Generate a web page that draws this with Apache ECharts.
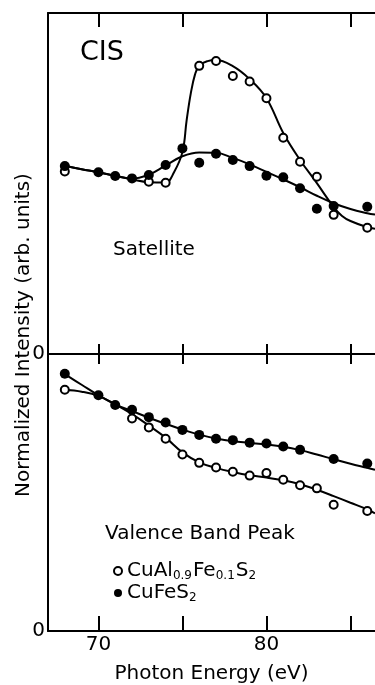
<!DOCTYPE html>
<html>
<head>
<meta charset="utf-8">
<script src="https://cdn.jsdelivr.net/npm/echarts@6/dist/echarts.min.js"></script>
<style>
  html, body { margin: 0; padding: 0; background: #fff; }
  #app { width: 375px; height: 685px; }
</style>
</head>
<body>
<div id="app"></div>
<script>
const FONT = "'DejaVu Sans', sans-serif";
const NAME_AL = "CuAl0.9Fe0.1S2";
const NAME_FE = "CuFeS2";

// x ticks / labels (eV)
const tickValues = [70, 75, 80, 85];
const labelValues = [70, 80];

// Satellite panel, measured points
const satEnergyFe = [68, 70, 71, 72, 73, 74, 75, 76, 77, 78, 79, 80, 81, 82, 83, 84, 86];
const satFe = [55.1, 53.3, 52.2, 51.5, 52.5, 55.4, 60.3, 56.1, 58.7, 56.9, 55.1, 52.3, 51.8, 48.6, 42.6, 43.4, 43.2];
const satEnergyAl = [68, 73, 74, 76, 77, 78, 79, 80, 81, 82, 83, 84, 86];
const satAl = [53.5, 50.5, 50.2, 84.5, 85.9, 81.5, 79.9, 75.0, 63.4, 56.4, 52.0, 40.8, 37.0];

// Satellite panel, drawn curves
const fitEnergy = [68, 69, 70, 71, 72, 73, 74, 75, 76, 77, 78, 79, 80, 81, 82, 83, 84, 85, 86, 86.46];
const satFitFe = [55.2, 54.2, 53.3, 52.3, 51.4, 52.6, 55.3, 58.0, 59.1, 59.0, 57.5, 55.6, 53.4, 51.2, 48.9, 46.4, 44.2, 42.5, 41.3, 40.9];
const satFitEnergyAl = [68, 69, 70, 71, 72, 73, 74, 74.5, 75, 75.25, 75.5, 75.75, 76, 76.5, 77, 78, 79, 80, 81, 82, 83, 84, 84.5, 85, 86, 86.46];
const satFitAl = [55.2, 54.2, 53.3, 52.2, 51.2, 50.4, 50.3, 53.3, 59.2, 68.5, 76.5, 82.0, 84.6, 85.9, 86.2, 84.4, 80.6, 75.0, 64.8, 56.9, 50.1, 43.1, 40.5, 39.0, 37.2, 36.7];

// Valence band peak panel, measured points
const bandEnergyFe = [68, 70, 71, 72, 73, 74, 75, 76, 77, 78, 79, 80, 81, 82, 84, 86];
const bandFe = [92.9, 85.1, 81.6, 79.9, 77.2, 75.3, 72.6, 70.8, 69.4, 68.9, 68.0, 67.7, 66.6, 65.4, 62.1, 60.5];
const bandEnergyAl = [68, 72, 73, 74, 75, 76, 77, 78, 79, 80, 81, 82, 83, 84, 86];
const bandAl = [87.1, 76.7, 73.5, 69.4, 63.7, 60.7, 59.0, 57.5, 56.1, 57.0, 54.6, 52.6, 51.5, 45.6, 43.3];

// Valence band peak panel, drawn curves
const bandFitFe = [92.7, 88.9, 85.1, 81.8, 79.4, 77.0, 74.8, 72.7, 70.9, 69.5, 68.5, 67.9, 67.3, 66.5, 65.3, 63.7, 62.0, 60.4, 58.9, 58.2];
const bandFitAl = [87.1, 86.4, 84.9, 81.8, 78.3, 74.2, 69.8, 64.5, 60.9, 58.9, 57.4, 56.2, 55.4, 54.4, 53.0, 51.0, 48.7, 46.3, 43.9, 42.5];

const pairs = (xs, ys) => xs.map((x, i) => [x, ys[i]]);

function xAxisFor(gridIndex, position, tickLen, showLabels) {
  return {
    type: "value",
    gridIndex,
    position,
    min: 67,
    max: 86.46,
    axisLine: { show: true, onZero: false, lineStyle: { color: "#000", width: 2 } },
    axisTick: { show: true, inside: true, length: tickLen, customValues: tickValues, lineStyle: { color: "#000", width: 2 } },
    axisLabel: {
      show: showLabels,
      customValues: labelValues,
      color: "#000",
      fontFamily: FONT,
      fontSize: 20,
      margin: 4
    },
    splitLine: { show: false },
    name: showLabels ? "Photon Energy (eV)" : "",
    nameLocation: "middle",
    nameGap: 33,
    nameTextStyle: { color: "#000", fontFamily: FONT, fontSize: 20 }
  };
}

function yAxisFor(gridIndex) {
  return {
    type: "value",
    gridIndex,
    min: 0,
    max: 100,
    axisLine: { show: true, onZero: false, lineStyle: { color: "#000", width: 2 } },
    axisTick: { show: false },
    axisLabel: { customValues: [0], color: "#000", fontFamily: FONT, fontSize: 20, margin: 3 },
    splitLine: { show: false }
  };
}

function fitLine(name, data, axis) {
  return {
    name,
    type: "line",
    xAxisIndex: axis[0],
    yAxisIndex: axis[1],
    data,
    smooth: 0.4,
    showSymbol: false,
    silent: true,
    lineStyle: { color: "#000", width: 2 },
    z: 2
  };
}

function points(name, data, axis, open) {
  return {
    name,
    type: "scatter",
    xAxisIndex: axis[0],
    yAxisIndex: axis[1],
    data,
    symbol: "circle",
    symbolSize: open ? 8 : 10,
    itemStyle: open
      ? { color: "#fff", borderColor: "#000", borderWidth: 2, opacity: 1 }
      : { color: "#000", borderColor: "#000", borderWidth: 0, opacity: 1 },
    z: open ? 3 : 4
  };
}

const chart = echarts.init(document.getElementById("app"), null, { renderer: "canvas" });

chart.setOption({
  animation: false,
  backgroundColor: "#fff",
  grid: [
    { left: 48, right: 0, top: 13, height: 341 },
    { left: 48, right: 0, top: 354, height: 287 }
  ],
  xAxis: [
    xAxisFor(0, "top", 14, false),
    xAxisFor(0, "bottom", 10, false),
    xAxisFor(1, "top", 10, false),
    xAxisFor(1, "bottom", 15, true)
  ],
  yAxis: [yAxisFor(0), yAxisFor(1)],
  legend: {
    data: [NAME_AL, NAME_FE],
    orient: "vertical",
    left: 108,
    top: 556,
    icon: "circle",
    itemWidth: 8,
    itemHeight: 8,
    itemGap: 1,
    selectedMode: false,
    formatter: name =>
      name === NAME_AL
        ? "{m|CuAl}{s|0.9}{m|Fe}{s|0.1}{m|S}{s|2}"
        : "{m|CuFeS}{s|2}",
    textStyle: {
      color: "#000",
      fontFamily: FONT,
      rich: {
        m: { fontSize: 20, fontFamily: FONT, color: "#000", lineHeight: 22 },
        s: { fontSize: 12, fontFamily: FONT, color: "#000", lineHeight: 12, verticalAlign: "bottom", padding: [0, 1, 0, 0] }
      }
    }
  },
  graphic: [
    {
      type: "text",
      left: 80,
      top: 39,
      style: { text: "CIS", font: "27px " + FONT, fill: "#000" }
    },
    {
      type: "text",
      left: 113,
      top: 240,
      style: { text: "Satellite", font: "20px " + FONT, fill: "#000" }
    },
    {
      type: "text",
      left: 105,
      top: 524,
      style: { text: "Valence Band Peak", font: "20px " + FONT, fill: "#000" }
    },
    {
      type: "text",
      x: 24,
      y: 335,
      rotation: Math.PI / 2,
      style: {
        text: "Normalized Intensity (arb. units)",
        font: "20px " + FONT,
        fill: "#000",
        align: "center",
        verticalAlign: "middle"
      }
    }
  ],
  series: [
    fitLine("fit-sat-al", pairs(satFitEnergyAl, satFitAl), [0, 0]),
    fitLine("fit-sat-fe", pairs(fitEnergy, satFitFe), [0, 0]),
    fitLine("fit-band-al", pairs(fitEnergy, bandFitAl), [2, 1]),
    fitLine("fit-band-fe", pairs(fitEnergy, bandFitFe), [2, 1]),
    points(NAME_AL, pairs(satEnergyAl, satAl), [0, 0], true),
    points(NAME_FE, pairs(satEnergyFe, satFe), [0, 0], false),
    points(NAME_AL, pairs(bandEnergyAl, bandAl), [2, 1], true),
    points(NAME_FE, pairs(bandEnergyFe, bandFe), [2, 1], false)
  ]
});

window.onresize = function() {
  chart.resize();
};
</script>
</body>
</html>
